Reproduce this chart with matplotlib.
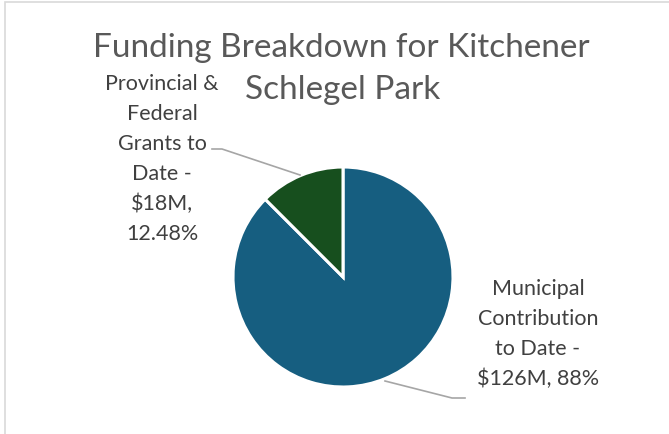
import matplotlib.pyplot as plt
from matplotlib.patches import Rectangle

# data
labels = ["Municipal\nContribution\nto Date -\n$126M, 88%",
          "Provincial &\nFederal\nGrants to\nDate -\n$18M,\n12.48%"]
values = [126, 18]
colors = ["#165E80", "#174F1E"]

W, H = 669, 435
plt.rcParams['font.family'] = ['Lato', 'DejaVu Sans']

fig = plt.figure(figsize=(W / 100, H / 100), dpi=100)
ax = fig.add_axes([0, 0, 1, 1])

# pie centre / radius in pixel coords (y up)
cx, cy, r = 343, H - 278, 110
ax.pie(values, colors=colors, startangle=90, counterclock=False,
       center=(cx, cy), radius=r,
       wedgeprops=dict(edgecolor="white", linewidth=2.2))
ax.set_xlim(0, W)
ax.set_ylim(0, H)
ax.set_aspect('auto')
ax.axis('off')

# chart area border
ax.add_patch(Rectangle((5, -10), W, H - 3 + 10, fill=False,
                       edgecolor="#d9d9d9", linewidth=1.2))

txt = "#404040"
ax.text(341, H - 48, "Funding Breakdown for Kitchener", ha='center', va='center',
        fontsize=24, color="#595959")
ax.text(343, H - 90, "Schlegel Park", ha='center', va='center',
        fontsize=24, color="#595959")

ax.text(162, H - 159, labels[1], ha='center', va='center', fontsize=15.5,
        color=txt, linespacing=1.62)
ax.text(538, H - 334, labels[0], ha='center', va='center', fontsize=15.5,
        color=txt, linespacing=1.62)

# leader lines
ax.plot([212, 222, 300], [H - 150, H - 150, H - 176], color="#a6a6a6", lw=1.2)
ax.plot([385, 452, 465], [H - 382, H - 399, H - 399], color="#a6a6a6", lw=1.2)

fig.savefig("out.png", dpi=100)
